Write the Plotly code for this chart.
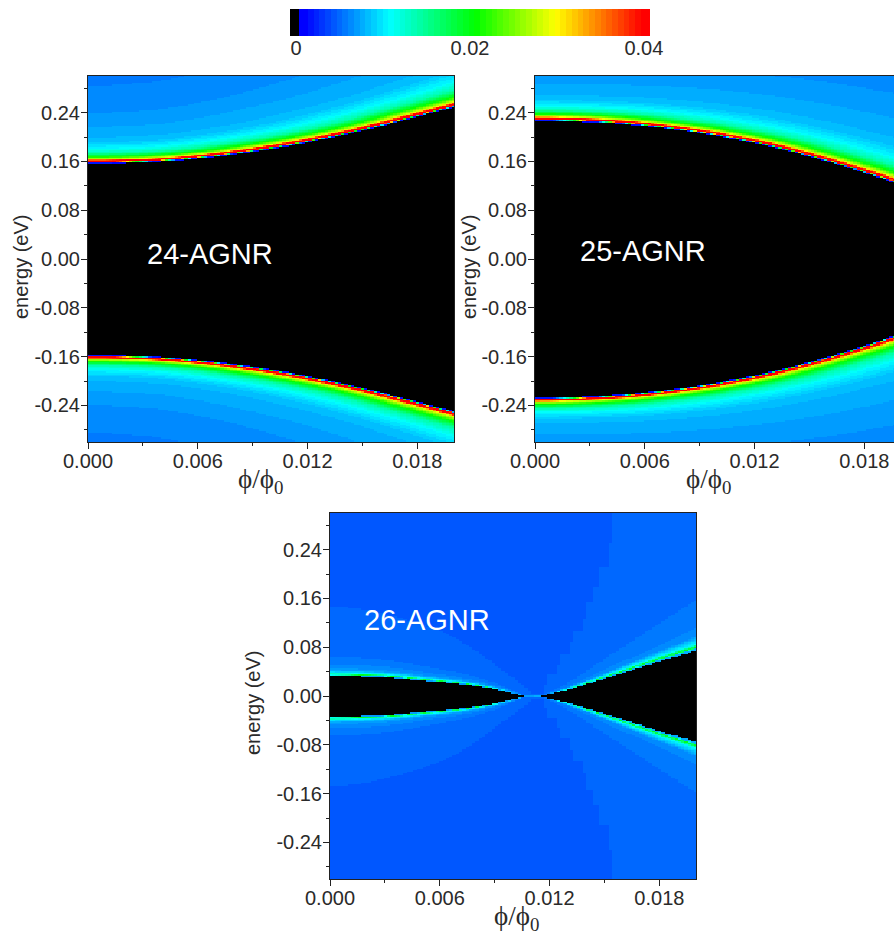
import numpy as np
import plotly.graph_objects as go

W, H = 894, 937

# ---- values ----
PHI_KNOTS = [0, .001, .002, .003, .004, .005, .006, .007, .008, .009, .010,
             .011, .012, .013, .014, .015, .016, .017, .018, .019, .020]
EDGE_24 = [.157, .157, .1575, .1583, .1598, .1620, .1648, .168, .172, .176, .1805,
           .1855, .191, .197, .2035, .2105, .218, .2255, .233, .241, .2487]
EDGE_25 = [.2267, .2265, .2257, .2246, .2231, .2210, .2182, .2149, .2110, .2066, .2017,
           .1958, .1900, .1835, .1762, .1684, .1600, .1510, .1415, .1321, .1219]
PHI_26 = [0, .001, .002, .003, .004, .005, .006, .007, .008, .009, .010, .0106,
          .0116, .012, .013, .014, .015, .016, .017, .018, .019, .020]
EDGE_26 = [.0333, .033, .0323, .031, .0288, .0258, .0232, .0205, .0165, .0115, .005, 0,
           0, .0028, .0105, .0195, .0288, .038, .0472, .0565, .0655, .0743]

# distance above the band edge (eV) -> colour value
PROFILE_D = [0, .0010, .0020, .0028, .0048, .0065, .011, .017, .025, .036, .056, .083, .105, .143, .3]
PROFILE_Z = [.001, .002, .02, .041, .041, .029, .0205, .014, .0105, .0082, .0074, .0066, .0062, .0058, .0052]
# the colour bands widen away from the edge as the flux grows
STRETCH_PHI = [0, .004, .008, .012, .016, .02]
STRETCH = [1, 1.05, 1.2, 1.4, 1.62, 1.85]

# 26-AGNR: plateau boundaries
BL_PHI = [0, .001, .002, .003, .004, .005, .006, .007, .008, .009, .010, .011, .0112]
BL_E = [.146, .145, .141, .135, .127, .118, .107, .093, .074, .052, .031, .006, 0]
BR_PHI = [.0112, .01137, .0122, .01257, .0129, .0132, .01357, .01391, .01426, .01462, .01497, .01536, .01554]
BR_E = [0, 0, .038, .054, .070, .087, .105, .125, .152, .177, .209, .252, 9]
LEFT_RATIO = [1.38, 1.56, 1.92]
LEFT_Z = [.0068, .0062, .0056]
RIGHT_RATIO = [1.17, 1.31, 1.49, 1.68, 2.11]
RIGHT_Z = [.0079, .0070, .0064, .0059, .0054]
LEVEL_1, LEVEL_2 = .0044, .0050
NEAR_R = [0, .03, .075, .15, .24, .4]
NEAR_Z = [.001, .003, .02, .0105, .0085, .004]
PEAK_PHI = [0, .004, .008, .0105, .0112, .013, .016, .02]
PEAK_Z = [.024, .024, .018, .011, .007, .012, .024, .035]

STOP_POS = [0, .0333, .0333, .269, .508, .73, .97, 1]
STOP_COL = ["#000000", "#000000", "#0000ff", "#00ffff", "#00ff00", "#ffff00", "#ff0000", "#ff0000"]
Z_MIN, Z_MAX, Z_STEP = -.00069, .0407, .00066
CBAR_TICKS = [0, .02, .04]
CBAR_LABELS = ["0", "0.02", "0.04"]

X_TICKS = [0, .006, .012, .018]
X_LABELS = ["0.000", "0.006", "0.012", "0.018"]
X_MINOR = [.003, .009, .015]
Y_TICKS = [-.24, -.16, -.08, 0, .08, .16, .24]
Y_LABELS = ["-0.24", "-0.16", "-0.08", "0.00", "0.08", "0.16", "0.24"]
Y_MINOR = [-.28, -.2, -.12, -.04, .04, .12, .2, .28]
N_COL, N_ROW, COARSE = 113, 241, .02 / 56

phi = np.array([i * .02 / (N_COL - 1) for i in range(N_COL)])
energy = np.array([-.3 + i * .6 / (N_ROW - 1) for i in range(N_ROW)])
P, E = np.meshgrid(phi, energy)
A = np.abs(E)


def quant(z):
    z = np.where(z < .0007, 0, z)
    return np.where(z > 0, .0007 + np.floor((z - .0007) / Z_STEP) * Z_STEP, -.0006)


def field_gap(edge):
    e = np.interp(P, PHI_KNOTS, edge)
    d = A - e
    s = np.interp(P, STRETCH_PHI, STRETCH)
    deff = np.where(d < .004, d, .004 + (d - .004) / s)
    z = np.interp(deff, PROFILE_D, PROFILE_Z)
    return quant(np.where(d < 0, 0, z))


def field_26():
    e = np.interp(P, PHI_26, EDGE_26)
    d = A - e
    r = A / np.maximum(e, 1e-6)
    left = P < .0112
    PC = np.round(P / COARSE) * COARSE
    bl = np.interp(P, BL_PHI, BL_E)
    br = np.interp(PC, BR_PHI, BR_E)
    z = np.where(left, np.where(A < bl, LEVEL_2, LEVEL_1),
                 np.where(A < br, LEVEL_2, LEVEL_1))
    for ratio, val in zip(LEFT_RATIO[::-1], LEFT_Z[::-1]):
        z = np.where(left & (r < ratio), val, z)
    for ratio, val in zip(RIGHT_RATIO[::-1], RIGHT_Z[::-1]):
        z = np.where(~left & (r < ratio), val, z)
    near = np.minimum(np.interp(r - 1, NEAR_R, NEAR_Z), np.interp(P, PEAK_PHI, PEAK_Z))
    z = np.maximum(z, near)
    return quant(np.where(d < 0, 0, z))


colorscale = [[p, c] for p, c in zip(STOP_POS, STOP_COL)]
common = dict(colorscale=colorscale, zmin=Z_MIN, zmax=Z_MAX, showscale=False, hoverinfo="skip")

fig = go.Figure()
fields = [field_gap(EDGE_24), field_gap(EDGE_25), field_26()]
for i, z in enumerate(fields):
    ax = "" if i == 0 else str(i + 1)
    fig.add_trace(go.Heatmap(x=phi, y=energy, z=z, xaxis="x" + ax, yaxis="y" + ax, **common))

cb_levels = [-.0006] + [.0007 + k * Z_STEP for k in range(int((Z_MAX - .0007) / Z_STEP) + 1)]
cb_x = [-.00035] + [.0007 + (k + .5) * Z_STEP for k in range(len(cb_levels) - 1)]
fig.add_trace(go.Heatmap(x=cb_x, y=[0], z=[cb_levels], xaxis="x4", yaxis="y4", **common))

TXT = "#2a2a2a"
FONT = "Liberation Sans"
def xdom(a, b): return [a / W, b / W]
def ydom(a, b): return [1 - b / H, 1 - a / H]

def xaxis(dom, anchor, rng=(0, .02)):
    return dict(domain=xdom(*dom), anchor=anchor, range=list(rng), tickvals=X_TICKS, ticktext=X_LABELS,
                automargin=False, ticks="outside", ticklen=6, tickwidth=1, tickcolor="#222", showline=True, mirror=True,
                linecolor="#222", linewidth=1, showgrid=False, zeroline=False, ticklabelstandoff=-5,
                minor=dict(tickvals=X_MINOR, ticks="outside", ticklen=3, tickwidth=1, tickcolor="#222", showgrid=False),
                tickfont=dict(size=20, color=TXT, family=FONT))

def yaxis(dom, anchor):
    return dict(domain=ydom(*dom), anchor=anchor, range=[-.3, .3], tickvals=Y_TICKS, ticktext=Y_LABELS,
                automargin=False, ticks="outside", ticklen=6, tickwidth=1, tickcolor="#222", showline=True, mirror=True,
                linecolor="#222", linewidth=1, showgrid=False, zeroline=False, ticklabelstandoff=-3,
                minor=dict(tickvals=Y_MINOR, ticks="outside", ticklen=3, tickwidth=1, tickcolor="#222", showgrid=False),
                tickfont=dict(size=20, color=TXT, family=FONT))

def ann(text, x, y, size, color=TXT, angle=0, family=FONT):
    return dict(text=text, x=x / W, y=1 - y / H, xref="paper", yref="paper", showarrow=False, xanchor="center",
                yanchor="middle", textangle=angle, font=dict(size=size, color=color, family=family))

PHI_TXT = "ϕ/ϕ<sub>0</sub>"
fig.update_layout(
    width=W, height=H, autosize=False, margin=dict(l=0, r=0, t=0, b=0),
    paper_bgcolor="white", plot_bgcolor="black", showlegend=False,
    xaxis=xaxis((88, 454), "y"), yaxis=yaxis((76, 442), "x"),
    xaxis2=xaxis((535, 894), "y2", (0, .02 * 359 / 366)), yaxis2=yaxis((76, 442), "x2"),
    xaxis3=xaxis((330, 696), "y3"), yaxis3=yaxis((513, 879), "x3"),
    xaxis4=dict(domain=xdom(290, 650), anchor="y4", range=[Z_MIN, Z_MAX], tickvals=CBAR_TICKS, ticktext=CBAR_LABELS,
                automargin=False, ticks="", showline=False, showgrid=False, zeroline=False, ticklabelstandoff=-2,
                tickfont=dict(size=20, color=TXT, family=FONT)),
    yaxis4=dict(domain=ydom(9, 36), anchor="x4", range=[-.5, .5], visible=False, automargin=False),
    annotations=[
        ann("energy (eV)", 21, 267, 20, angle=-90),
        ann("energy (eV)", 469, 267, 20, angle=-90),
        ann("energy (eV)", 253, 703, 20, angle=-90),
        ann(PHI_TXT, 260, 481, 27, family="Liberation Serif"),
        ann(PHI_TXT, 708, 481, 27, family="Liberation Serif"),
        ann(PHI_TXT, 516, 918, 27, family="Liberation Serif"),
        ann("24-AGNR", 210, 254, 29, "white"),
        ann("25-AGNR", 643, 251, 29, "white"),
        ann("26-AGNR", 427, 620, 29, "white"),
    ],
)
fig.write_html("out.html", config=dict(displayModeBar=False),
               post_script="document.body.style.margin='0';document.body.style.overflow='hidden';")
